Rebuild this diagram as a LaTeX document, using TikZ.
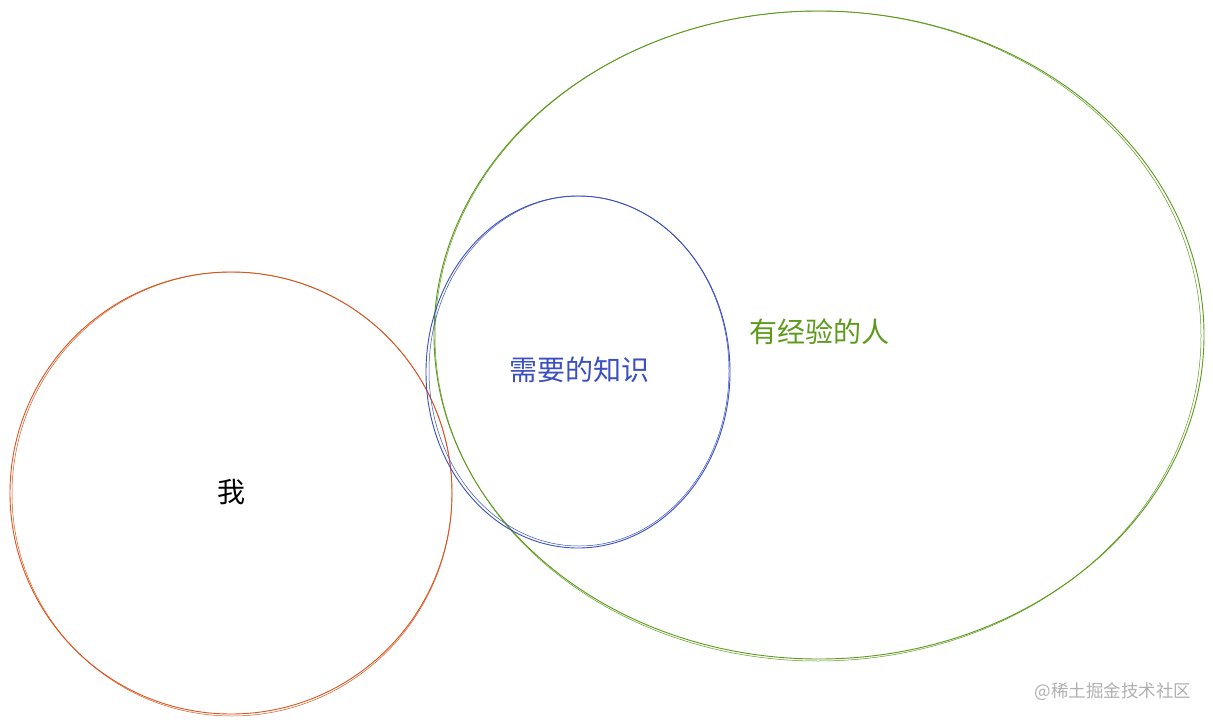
\documentclass[tikz,border=0pt]{standalone}
\usepackage{fontspec}
\newfontfamily\cjk{Noto Sans CJK SC}
\definecolor{cOrange}{HTML}{D9541E}
\definecolor{cGreen}{HTML}{5C9A1B}
\definecolor{cBlue}{HTML}{3A4FC0}
\definecolor{cGray}{HTML}{B0B0B0}
\begin{document}
\begin{tikzpicture}[x=1pt,y=-1pt,
  sk/.style={line width=0.9pt},
  lbl/.style={font=\cjk\fontsize{28}{30}\selectfont, inner sep=0pt}]
\useasboundingbox (0,0) rectangle (1213,725);
% orange circle (me)
\draw[sk,cOrange] (231,493) ellipse [x radius=221, y radius=221];
\draw[sk,cOrange,line width=0.5pt] (232,494) ellipse [x radius=220, y radius=222];
% green ellipse (experienced people)
\draw[sk,cGreen] (819,335) ellipse [x radius=385, y radius=324];
\draw[sk,cGreen,line width=0.5pt] (818,336) ellipse [x radius=383, y radius=325];
% blue circle (knowledge)
\draw[sk,cBlue] (578,372) ellipse [x radius=152, y radius=176];
\draw[sk,cBlue,line width=0.5pt] (579,371) ellipse [x radius=150, y radius=175];
% labels
\node[lbl,text=black] (me) at (231,492) {我};
\node[lbl,text=cBlue] (kn) at (579,370) {需要的知识};
\node[lbl,text=cGreen] (ex) at (819,332) {有经验的人};
\node[font=\cjk\fontsize{17.5}{19}\selectfont,text=cGray,inner sep=0pt] (wm) at (1113,692) {@稀土掘金技术社区};
\end{tikzpicture}
\end{document}
